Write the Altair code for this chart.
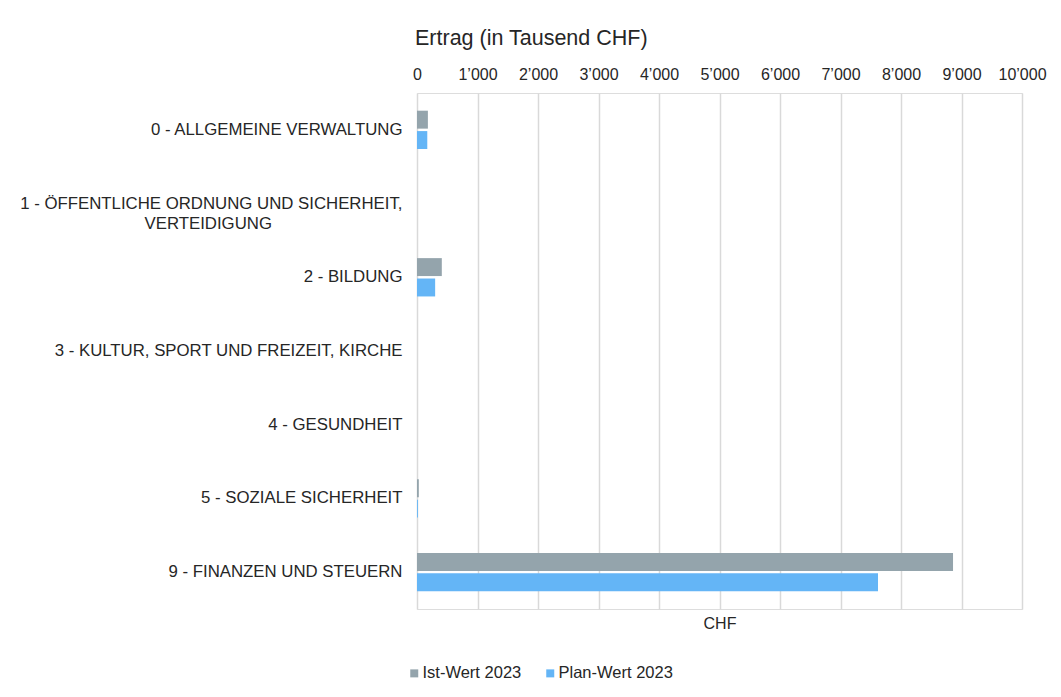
import altair as alt
import pandas as pd

categories = [
    "0 - ALLGEMEINE VERWALTUNG",
    "1 - ÖFFENTLICHE ORDNUNG UND SICHERHEIT, VERTEIDIGUNG",
    "2 - BILDUNG",
    "3 - KULTUR, SPORT UND FREIZEIT, KIRCHE",
    "4 - GESUNDHEIT",
    "5 - SOZIALE SICHERHEIT",
    "9 - FINANZEN UND STEUERN",
]
series = ["Ist-Wert 2023", "Plan-Wert 2023"]
ist_values = [180, 0, 410, 0, 0, 30, 8860]
plan_values = [170, 0, 300, 0, 0, 15, 7620]
x_ticks = [0, 1000, 2000, 3000, 4000, 5000, 6000, 7000, 8000, 9000, 10000]
colors = ["#94A4AC", "#64B5F6"]

rows = []
for c, v in zip(categories, ist_values):
    rows.append({"cat": c, "series": series[0], "value": v})
for c, v in zip(categories, plan_values):
    rows.append({"cat": c, "series": series[1], "value": v})
df = pd.DataFrame(rows)

nb = "\u00a0" * 28 + "\u200b"
label_expr = (
    "datum.label == '" + categories[1] + "' ? "
    "['1 - ÖFFENTLICHE ORDNUNG UND SICHERHEIT,', 'VERTEIDIGUNG" + nb + "'] : datum.label"
)

FONT = "Liberation Sans"
TXT = "#262626"

xscale = alt.Scale(domain=[0, 10000], nice=False, zero=True)
yscale = alt.Scale(domain=categories, paddingInner=0.48, paddingOuter=0.24)

bars = alt.Chart(df).mark_bar().encode(
    x=alt.X(
        "value:Q",
        scale=xscale,
        axis=alt.Axis(
            orient="top", values=x_ticks, title=None, ticks=False, domain=False,
            grid=True, gridColor="#d9d9d9", gridWidth=1.5, labelFlush=False,
            labelOverlap=False,
            labelExpr="replace(format(datum.value, ','), ',', '\u2019')",
            labelFont=FONT, labelFontSize=16, labelColor=TXT, labelPadding=11,
        ),
    ),
    y=alt.Y(
        "cat:N", sort=categories, scale=yscale,
        axis=alt.Axis(
            title=None, ticks=False, domain=False, grid=False, labelFont=FONT,
            labelFontSize=16.8, labelColor=TXT, labelPadding=15, labelExpr=label_expr,
            labelLineHeight=20, labelLimit=500,
        ),
    ),
    yOffset=alt.YOffset("series:N", sort=series,
                        scale=alt.Scale(paddingInner=0.12, paddingOuter=0.0)),
    color=alt.Color(
        "series:N", sort=series, scale=alt.Scale(domain=series, range=colors),
        legend=alt.Legend(
            title=None, orient="none", legendX=-11, legendY=572, direction="horizontal",
            symbolType="square", symbolSize=64, symbolStrokeWidth=0, labelFont=FONT,
            labelFontSize=16.5, labelColor=TXT, columnPadding=20, labelOffset=0,
        ),
    ),
)

xtitle = alt.Chart(df).mark_point(opacity=0).encode(
    x=alt.X(
        "value:Q", scale=xscale,
        axis=alt.Axis(orient="bottom", title="CHF", labels=False, ticks=False,
                      domain=False, grid=False, titleFont=FONT, titleFontSize=16,
                      titleFontWeight="normal", titleColor=TXT, titlePadding=6),
    ),
)

chart = (
    alt.layer(bars, xtitle)
    .resolve_axis(x="independent")
    .properties(
        width=605, height=516,
        autosize=alt.AutoSizeParams(type="none"),
        padding={"left": 409, "top": 85, "right": 28, "bottom": 72},
        title=alt.TitleParams(
            "Ertrag (in Tausend CHF)", anchor="start", frame="group", font=FONT,
            fontSize=21.5, fontWeight="normal", color=TXT, offset=17, dx=-2,
        ),
    )
    .configure_view(stroke=None)
    .configure(background="white")
)

chart.save("out.html", embed_options={"renderer": "svg", "actions": False})
